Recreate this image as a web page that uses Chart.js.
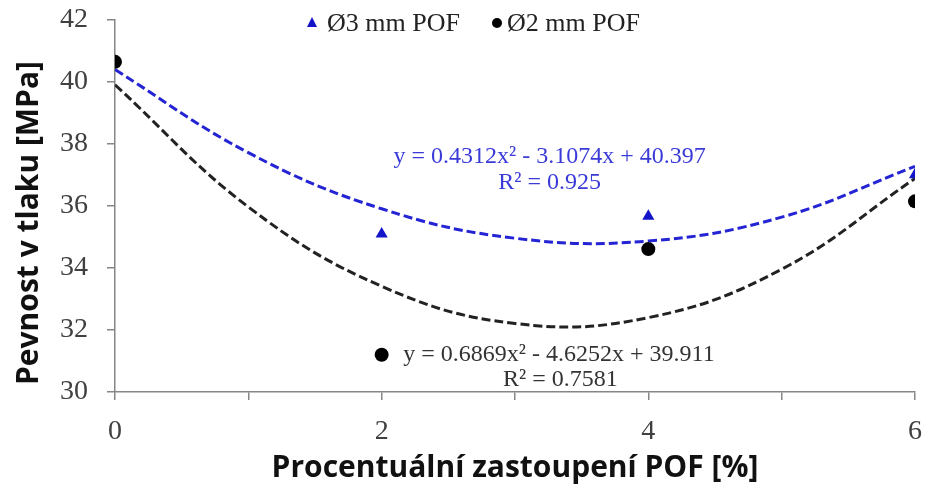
<!DOCTYPE html>
<html>
<head>
<meta charset="utf-8">
<script src="https://cdn.jsdelivr.net/npm/chart.js@4/dist/chart.umd.min.js"></script>
<style>
    html, body { margin: 0; padding: 0; background: #fff; }
    #wrap { width: 926px; height: 487px; }
</style>
</head>
<body>
<div id="wrap"><canvas id="chart" width="926" height="487"></canvas></div>
<script>
// Measured points (x = % POF)
const xValues = [0, 2, 4, 6];
const pof3Values = [40.67, 35.10, 35.67, 37.01];
const pof2Values = [40.65, 31.20, 34.61, 36.15];

// Polynomial trend lines
const trendX = [0, 1, 2, 3, 4, 5, 6];
const pof3Trend = [40.40, 37.72, 35.91, 34.96, 34.87, 35.64, 37.28];
const pof2Trend = [39.91, 35.97, 33.41, 32.21, 32.40, 33.96, 36.89];

const seriesLabels = ['Ø3 mm POF', 'Ø2 mm POF'];
const pof3Equation = ['y = 0.4312x² - 3.1074x + 40.397', 'R² = 0.925'];
const pof2Equation = ['y = 0.6869x² - 4.6252x + 39.911', 'R² = 0.7581'];
const yTitle = 'Pevnost v tlaku [MPa]';
const xTitle = 'Procentuální zastoupení POF [%]';

const BLUE = '#1414c8';
const BLACK = '#000000';
const AXIS = '#868686';

const toPoints = (xs, ys) => xs.map((x, i) => ({ x: x, y: ys[i] }));

// Legend, y title and equation labels drawn on top of the chart
const annotations = {
    id: 'annotations',
    afterDraw(chart) {
        const ctx = chart.ctx;
        const xs = chart.scales.x;
        const ys = chart.scales.y;
        ctx.save();

        // legend
        ctx.font = '26px "Liberation Serif"';
        ctx.textBaseline = 'middle';
        ctx.textAlign = 'left';
        ctx.fillStyle = BLUE;
        ctx.beginPath();
        ctx.moveTo(312, 17);
        ctx.lineTo(317, 27);
        ctx.lineTo(307, 27);
        ctx.closePath();
        ctx.fill();
        ctx.fillStyle = '#222';
        ctx.fillText(seriesLabels[0], 327, 24);
        ctx.fillStyle = BLACK;
        ctx.beginPath();
        ctx.arc(497, 23, 5, 0, Math.PI * 2);
        ctx.fill();
        ctx.fillStyle = '#222';
        ctx.fillText(seriesLabels[1], 507, 24);

        // y axis title
        ctx.save();
        ctx.translate(29, 223);
        ctx.rotate(-Math.PI / 2);
        ctx.textAlign = 'center';
        ctx.font = 'bold 30px "Open Sans"';
        ctx.fillStyle = '#111';
        ctx.fillText(yTitle, 0, 0);
        ctx.restore();

        // equations
        ctx.font = '24px "Liberation Serif"';
        ctx.textAlign = 'center';
        ctx.fillStyle = '#3a3ad8';
        ctx.fillText(pof3Equation[0], xs.getPixelForValue(3.26), ys.getPixelForValue(37.58));
        ctx.fillText(pof3Equation[1], xs.getPixelForValue(3.26), ys.getPixelForValue(36.74));
        ctx.fillStyle = '#333';
        ctx.fillText(pof2Equation[0], xs.getPixelForValue(3.33), ys.getPixelForValue(31.19));
        ctx.fillText(pof2Equation[1], xs.getPixelForValue(3.34), ys.getPixelForValue(30.39));
        ctx.restore();
    }
};

new Chart(document.getElementById('chart'), {
    type: 'scatter',
    data: {
        datasets: [
            {
                label: seriesLabels[1],
                data: toPoints(xValues, pof2Values),
                pointStyle: 'circle',
                pointRadius: 7,
                backgroundColor: BLACK,
                borderColor: BLACK,
                borderWidth: 0
            },
            {
                label: seriesLabels[0],
                data: toPoints(xValues, pof3Values),
                pointStyle: 'triangle',
                pointRadius: 7,
                backgroundColor: BLUE,
                borderColor: BLUE,
                borderWidth: 0
            },
            {
                label: 'trend 3',
                type: 'line',
                data: toPoints(trendX, pof3Trend),
                showLine: true,
                pointRadius: 0,
                borderColor: '#2424d4',
                borderWidth: 3,
                borderDash: [9, 4],
                tension: 0.4,
                fill: false
            },
            {
                label: 'trend 2',
                type: 'line',
                data: toPoints(trendX, pof2Trend),
                showLine: true,
                pointRadius: 0,
                borderColor: '#222',
                borderWidth: 3,
                borderDash: [9, 4],
                tension: 0.4,
                fill: false
            }
        ]
    },
    options: {
        responsive: false,
        animation: false,
        layout: { padding: { left: 10, right: 11, top: 20, bottom: 0 } },
        plugins: {
            legend: { display: false },
            tooltip: { enabled: false }
        },
        scales: {
            x: {
                type: 'linear',
                min: 0,
                max: 6,
                afterFit: s => {
                    s.height = 95;
                    s.paddingLeft = 0;
                    s.paddingRight = 0;
                },
                ticks: {
                    stepSize: 1,
                    autoSkip: false,
                    maxRotation: 0,
                    callback: v => (v % 2 === 0 ? v : ''),
                    font: { family: 'Liberation Serif', size: 28 },
                    color: '#404040',
                    padding: 15
                },
                grid: { drawOnChartArea: false, drawTicks: true, tickLength: 8, color: AXIS, lineWidth: 1.5 },
                border: { color: AXIS, width: 1.5 },
                title: {
                    display: true,
                    text: xTitle,
                    font: { family: 'Open Sans', weight: 'bold', size: 30 },
                    color: '#111',
                    padding: { top: 0, bottom: 1 }
                }
            },
            y: {
                min: 30,
                max: 42,
                afterFit: s => {
                    s.width = 105;
                    s.paddingTop = 0;
                    s.paddingBottom = 0;
                },
                ticks: {
                    stepSize: 2,
                    font: { family: 'Liberation Serif', size: 28 },
                    color: '#404040',
                    padding: 19
                },
                grid: { drawOnChartArea: false, drawTicks: true, tickLength: 8, color: AXIS, lineWidth: 1.5 },
                border: { color: AXIS, width: 1.5 }
            }
        }
    },
    plugins: [annotations]
});
</script>
</body>
</html>
